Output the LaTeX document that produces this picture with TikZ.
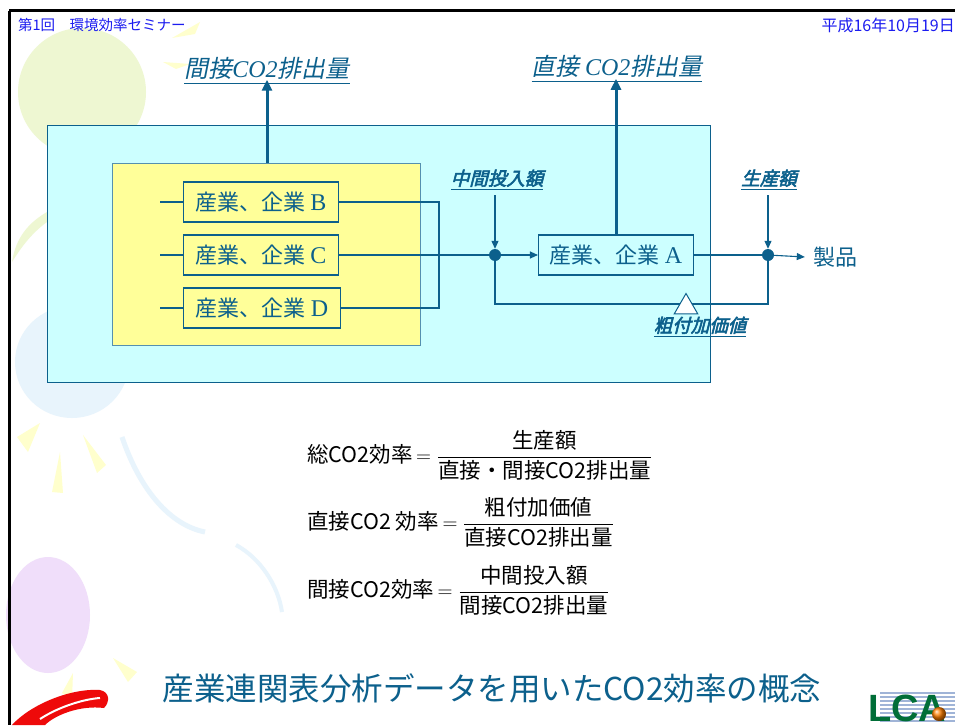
\documentclass[tikz,border=0pt]{standalone}
\usepackage{fontspec}
\usepackage{amsmath}
\setmainfont{Liberation Serif}
\setsansfont{Liberation Sans}
\newfontfamily\jp{Noto Sans CJK JP}
\newfontfamily\jpslant[FakeSlant=0.2]{Noto Sans CJK JP}
\newfontfamily\jpheavy[FakeSlant=0.25,FakeBold=3]{Noto Sans CJK JP}
\usetikzlibrary{arrows.meta, shapes.geometric}

\definecolor{ink}{RGB}{12,96,140}
\definecolor{headblue}{RGB}{28,28,240}
\definecolor{sky}{RGB}{204,255,255}
\definecolor{cream}{RGB}{255,255,153}
\definecolor{balloonGreen}{RGB}{238,247,210}
\definecolor{balloonBlue}{RGB}{232,244,252}
\definecolor{balloonPurple}{RGB}{240,222,250}
\definecolor{ray}{RGB}{255,255,205}
\definecolor{swoosh}{RGB}{238,10,10}
\definecolor{lcagreen}{RGB}{0,110,55}
\definecolor{lcastripe}{RGB}{160,180,215}

\tikzset{
  firm/.style={draw=ink, fill=cream, text=ink, line width=1.1pt,
    minimum width=155pt, minimum height=40pt, inner sep=0pt,
    font=\jp\fontsize{22}{24}\selectfont},
  joint/.style={circle, fill=ink, minimum size=12pt, inner sep=0pt},
  flow/.style={draw=ink, line width=1.1pt},
  tip/.style={-{Triangle[length=8pt,width=7pt]}},
  bigflow/.style={draw=ink, line width=3pt, -{Triangle[length=11pt,width=10pt]}},
  emission/.style={text=ink, inner sep=1pt, font=\jpslant\fontsize{24}{28}\selectfont},
  tag/.style={text=ink, inner sep=1pt, font=\jpheavy\fontsize{18.5}{21}\selectfont},
  formula/.style={anchor=west, inner sep=0pt, font=\jp\fontsize{21.5}{25}\selectfont},
  header/.style={text=headblue, inner sep=0pt, font=\jp\fontsize{14.5}{16}\selectfont}
}

\newcommand{\firmname}[1]{産業、企業 {\rmfamily\fontsize{24}{24}\selectfont #1}}

\begin{document}
\begin{tikzpicture}[x=1pt, y=-1pt]
\useasboundingbox (0,0) rectangle (955,725);
\fill[white] (0,0) rectangle (955,725);

% pale balloons in the background
\fill[balloonGreen] (82,92) circle[radius=64];
\fill[balloonGreen] (12,262) .. controls (16,236) and (30,222) .. (47,212)
  -- (47,222) .. controls (32,233) and (22,246) .. (12,262);
\fill[balloonBlue] (72,362) ellipse[x radius=57, y radius=56];
\draw[balloonBlue, line width=5pt] (122,437) .. controls (140,490) and (170,525) .. (205,532);
\draw[balloonBlue, line width=4pt] (236,545) .. controls (260,558) and (278,585) .. (282,612);
\fill[balloonPurple] (48,615) ellipse[x radius=42, y radius=58];
\fill[ray] (172,38) -- (200,22) -- (195,34) -- cycle;
\fill[ray] (163,62) -- (190,64) -- (176,69) -- cycle;
\fill[ray] (17,437) -- (40,423) -- (28,452) -- cycle;
\fill[ray] (52,492) -- (60,452) -- (63,493) -- cycle;
\fill[ray] (83,435) -- (106,465) -- (97,473) -- cycle;
\fill[ray] (113,658) -- (137,672) -- (128,682) -- cycle;
\fill[ray] (62,693) -- (73,673) -- (72,700) -- cycle;
\fill[swoosh] (12,725) .. controls (30,705) and (70,688) .. (100,690)
  .. controls (110,692) and (110,702) .. (104,708)
  .. controls (80,705) and (55,715) .. (45,725) -- cycle;
\draw[white, line width=2pt] (40,719) .. controls (60,706) and (85,699) .. (100,698);

% slide frame and header
\draw[black, line width=3pt] (9,11) -- (955,11);
\draw[black, line width=3pt] (9,11) -- (9,725);
\node[header, anchor=west] (seminar) at (18,25) {第1回　環境効率セミナー};
\node[header, anchor=east, font=\jp\fontsize{16}{18}\selectfont] (date) at (955,25) {平成16年10月19日};

% sector boxes
\node[draw=ink, fill=sky, line width=1pt, minimum width=663pt, minimum height=257pt,
  inner sep=0pt] (economy) at (378.5,253.5) {};
\node[draw=ink!70, fill=cream, line width=1pt, minimum width=308pt, minimum height=182pt,
  inner sep=0pt] (suppliers) at (266,254) {};

\node[firm] (indB) at (261,202) {\firmname{B}};
\node[firm] (indC) at (261,255) {\firmname{C}};
\node[firm, minimum width=157pt] (indD) at (262,308) {\firmname{D}};
\node[firm, fill=sky] (indA) at (616,255) {\firmname{A}};

\foreach \n/\y in {B/202,C/255,D/308}{
  \coordinate (stub\n) at (160,\y);
  \draw[flow] (stub\n) -- (ind\n.west);
}

\node[joint] (dotIn) at (495,255) {};
\node[joint] (dotOut) at (768,255) {};
\node[text=ink, font=\jp\fontsize{22}{24}\selectfont, inner sep=0pt] (product) at (835,257) {製品};

% flows
\coordinate (busD) at (439,308);
\draw[flow] (indB.east) -| (busD) -- (indD.east);
\draw[flow] (indC.east) -- (dotIn);
\draw[flow, tip] (dotIn) -- (indA);
\draw[flow] (indA.east) -- (dotOut);
\draw[flow, tip] (dotOut) -- ([xshift=-8pt]product.west);

\coordinate (loopR) at (768,304);
\draw[flow] (dotIn) |- (loopR) -- (dotOut);
\node[regular polygon, regular polygon sides=3, minimum size=27pt, inner sep=0pt,
  draw=ink, fill=white, line width=1pt] (valueMark) at (686,307) {};

% labels
\node[emission] (lblIndirect) at (267,71) {\underline{間接{\rmfamily\itshape CO2}排出量}};
\node[emission] (lblDirect) at (617,69) {\underline{直接 {\rmfamily\itshape CO2}排出量}};
\node[tag] (lblInput) at (497,180) {\underline{中間投入額}};
\node[tag] (lblOutput) at (769,180) {\underline{生産額}};
\node[tag] (lblValue) at (700,327) {\underline{粗付加価値}};

\draw[bigflow] (suppliers.north -| lblIndirect) -- ([yshift=6pt]lblIndirect.south);
\draw[bigflow] (indA.north) -- ([yshift=5pt]lblDirect.south -| indA.north);
\draw[flow, tip] (lblInput.south -| dotIn) ++(0,4) -- (dotIn);
\draw[flow, tip] (lblOutput.south -| dotOut) ++(0,4) -- (dotOut);

% efficiency definitions
\node[formula] (effTotal) at (307,455)
  {総CO2効率\,$=\dfrac{\mbox{生産額}}{\mbox{直接・間接CO2排出量}}$};
\node[formula] (effDirect) at (307,522)
  {直接CO2 効率\,$=\dfrac{\mbox{粗付加価値}}{\mbox{直接CO2排出量}}$};
\node[formula] (effIndirect) at (307,590)
  {間接CO2効率\,$=\dfrac{\mbox{中間投入額}}{\mbox{間接CO2排出量}}$};

% title and logo
\node[text=ink, inner sep=0pt, font=\jp\fontsize{31.5}{35}\selectfont] (slideTitle) at (492,688)
  {産業連関表分析データを用いたCO2効率の概念};
\foreach \y in {693,697,...,721}
  \draw[lcastripe, line width=1.2pt] (880,\y) -- (955,\y);
\node[text=lcagreen, anchor=base west, inner sep=0pt,
  font=\sffamily\bfseries\fontsize{38}{38}\selectfont] (lcaMark) at (868,721) {LCA};
\shade[ball color=orange] (939,714) circle[radius=7];
\end{tikzpicture}
\end{document}
